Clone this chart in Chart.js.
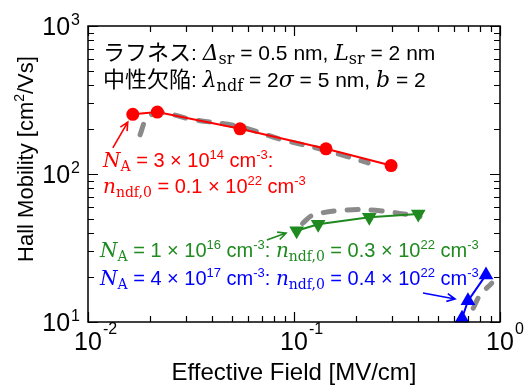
<!DOCTYPE html>
<html>
<head>
<meta charset="utf-8">
<script src="https://cdn.jsdelivr.net/npm/chart.js@4/dist/chart.umd.min.js"></script>
<style>
html,body{margin:0;padding:0;background:#fff;}
canvas{display:block;}
</style>
</head>
<body>
<canvas id="graficoMobilidade" width="524" height="385"></canvas>
<script>
// eixos
const xTicks = [0.01, 0.1, 1];
const xTickLabels = [["10","-2"],["10","-1"],["10","0"]];
const yTicks = [10, 100, 1000];
const yTickLabels = [["10","1"],["10","2"],["10","3"]];

// NA = 3e14 (vermelho)
const campoA = [0.0165, 0.0217, 0.0547, 0.143, 0.296];
const mobA = [253, 262, 202, 148, 114];
const campoAcalc = [0.0179, 0.0193, 0.0224, 0.0313, 0.0547, 0.0855, 0.144, 0.229];
const mobAcalc = [184, 238, 261, 235, 209, 172, 144, 119];

// NA = 1e16 (verde)
const campoB = [0.103, 0.131, 0.232, 0.401];
const mobB = [41.4, 45.7, 51, 53.7];
const campoBcalc = [0.110, 0.124, 0.180, 0.261, 0.409];
const mobBcalc = [46.4, 52.8, 57.1, 56.5, 51.5];

// NA = 4e17 (azul)
const campoC = [0.654, 0.699, 0.855];
const mobC = [10.6, 13.9, 20.8];
const campoCcalc = [0.742, 0.8, 0.912];
const mobCcalc = [12.4, 15.2, 18.3];

// setas (coordenadas de dados: cauda -> ponta)
const setaA = [[0.0132, 150], [0.0156, 224]];
const setaB = [[0.0739, 35.8], [0.0915, 39.9]];
const setaC = [[0.423, 15.7], [0.605, 14.3]];

const VERMELHO = "#ff0000";
const VERDE = "#1f8a1f";
const AZUL = "#0000ff";
const CINZA = "#8a8a8a";

const SANS = '20px "Liberation Sans", Arial, sans-serif';
const SUP = '13px "Liberation Sans", Arial, sans-serif';
const ITAL = 'italic 20px "DejaVu Serif", serif';
const SUB = '14px "DejaVu Serif", serif';

// texto preto do topo, um pouco maior
const SANS_P = '21px "Liberation Sans", Arial, sans-serif';
const ITAL_P = 'italic 22px "DejaVu Serif", serif';
const SUB_P = '16px "DejaVu Serif", serif';
const CJK = '22px "Noto Sans CJK JP", sans-serif';

function pontos(xs, ys){
    return xs.map((x,i)=>({x:x, y:ys[i]}));
}

function textoRico(ctx, x, y, partes, cor){
    let px = x;
    ctx.fillStyle = cor;
    ctx.textAlign = "left";
    ctx.textBaseline = "alphabetic";
    partes.forEach(p=>{
        ctx.font = p[1];
        ctx.fillText(p[0], px, y + (p[2] || 0));
        px += ctx.measureText(p[0]).width;
    });
}

function seta(ctx, xs, ys, s, cor){
    const x1 = xs.getPixelForValue(s[0][0]), y1 = ys.getPixelForValue(s[0][1]);
    const x2 = xs.getPixelForValue(s[1][0]), y2 = ys.getPixelForValue(s[1][1]);
    const ang = Math.atan2(y2-y1, x2-x1);
    ctx.strokeStyle = cor;
    ctx.lineWidth = 1.6;
    ctx.beginPath();
    ctx.moveTo(x1,y1);
    ctx.lineTo(x2,y2);
    ctx.moveTo(x2 - 9*Math.cos(ang-0.45), y2 - 9*Math.sin(ang-0.45));
    ctx.lineTo(x2,y2);
    ctx.lineTo(x2 - 9*Math.cos(ang+0.45), y2 - 9*Math.sin(ang+0.45));
    ctx.stroke();
}

function rotulos(na, expNa, n0){
    return [
        ["N", ITAL, 0], ["A", SUB, 4], [" = " + na + " \u00d7 10", SANS, 0], [expNa, SUP, -8],
        [" cm", SANS, 0], ["-3", SUP, -8], [": ", SANS, 0],
        ["n", ITAL, 0], ["ndf,0", SUB, 4], [" = " + n0 + " \u00d7 10", SANS, 0], ["22", SUP, -8],
        [" cm", SANS, 0], ["-3", SUP, -8]
    ];
}

const eixosPlugin = {
    id: "eixos",
    afterDatasetsDraw(chart){
        const ctx = chart.ctx;
        const a = chart.chartArea;
        const xs = chart.scales.x, ys = chart.scales.y;
        ctx.save();

        // setas
        seta(ctx, xs, ys, setaA, VERMELHO);
        seta(ctx, xs, ys, setaB, VERDE);
        seta(ctx, xs, ys, setaC, AZUL);

        // caixa
        ctx.strokeStyle = "#000";
        ctx.lineWidth = 1.5;
        ctx.strokeRect(a.left, a.top, a.right - a.left, a.bottom - a.top);

        // marcas
        ctx.lineWidth = 1.2;
        ctx.beginPath();
        for(let d = 0.01; d < 1; d *= 10){
            for(let m = 1; m <= 10; m++){
                const v = d*m;
                const px = Math.round(xs.getPixelForValue(v)) + 0.5;
                const L = (m === 1 || m === 10) ? 10 : 6;
                ctx.moveTo(px, a.bottom); ctx.lineTo(px, a.bottom - L);
                ctx.moveTo(px, a.top); ctx.lineTo(px, a.top + L);
            }
        }
        for(let d = 10; d < 1000; d *= 10){
            for(let m = 1; m <= 10; m++){
                const v = d*m;
                const py = Math.round(ys.getPixelForValue(v)) + 0.5;
                const L = (m === 1 || m === 10) ? 10 : 6;
                ctx.moveTo(a.left, py); ctx.lineTo(a.left + L, py);
                ctx.moveTo(a.right, py); ctx.lineTo(a.right - L, py);
            }
        }
        ctx.stroke();

        // rotulos dos eixos
        ctx.fillStyle = "#000";
        ctx.textBaseline = "alphabetic";
        xTicks.forEach((v,i)=>{
            const px = xs.getPixelForValue(v);
            ctx.font = '25px "Liberation Sans", Arial, sans-serif';
            const w = ctx.measureText(xTickLabels[i][0]).width;
            ctx.textAlign = "left";
            ctx.fillText(xTickLabels[i][0], px - w/2, a.bottom + 28);
            ctx.font = '16px "Liberation Sans", Arial, sans-serif';
            ctx.fillText(xTickLabels[i][1], px + w/2 + 1, a.bottom + 12);
        });
        yTicks.forEach((v,i)=>{
            const py = ys.getPixelForValue(v);
            ctx.font = '16px "Liberation Sans", Arial, sans-serif';
            const ws = ctx.measureText(yTickLabels[i][1]).width;
            ctx.textAlign = "right";
            ctx.fillText(yTickLabels[i][1], a.left - 8, py - 1);
            ctx.font = '25px "Liberation Sans", Arial, sans-serif';
            ctx.fillText(yTickLabels[i][0], a.left - 9 - ws, py + 9);
        });

        // titulos
        ctx.font = '24px "Liberation Sans", Arial, sans-serif';
        ctx.textAlign = "center";
        ctx.fillText("Effective Field [MV/cm]", (a.left + a.right)/2, 380);

        ctx.save();
        ctx.translate(33, 159);
        ctx.rotate(-Math.PI/2);
        const FT = '22px "Liberation Sans", Arial, sans-serif';
        const FS = '14px "Liberation Sans", Arial, sans-serif';
        ctx.font = FT;
        const t1 = "Hall Mobility [cm", t2 = "2", t3 = "/Vs]";
        const w1 = ctx.measureText(t1).width, w3 = ctx.measureText(t3).width;
        ctx.font = FS;
        const w2 = ctx.measureText(t2).width;
        let sx = -(w1 + w2 + w3)/2;
        ctx.textAlign = "left";
        ctx.font = FT;
        ctx.fillText(t1, sx, 0);
        ctx.font = FS;
        ctx.fillText(t2, sx + w1, -9);
        ctx.font = FT;
        ctx.fillText(t3, sx + w1 + w2, 0);
        ctx.restore();

        // anotacoes
        textoRico(ctx, 103, 60, [
            ["ラフネス", CJK, 0], [": ", SANS_P, 0], ["\u0394", ITAL_P, 0], ["sr", SUB_P, 4],
            [" = 0.5 nm, ", SANS_P, 0], ["L", ITAL_P, 0], ["sr", SUB_P, 4], [" = 2 nm", SANS_P, 0]
        ], "#000");
        textoRico(ctx, 103, 87, [
            ["中性欠陥", CJK, 0], [": ", SANS_P, 0], ["\u03bb", ITAL_P, 0], ["ndf", SUB_P, 4],
            [" = 2", SANS_P, 0], ["\u03c3", ITAL_P, 0], [" = 5 nm, ", SANS_P, 0], ["b", ITAL_P, 0], [" = 2", SANS_P, 0]
        ], "#000");

        textoRico(ctx, 103, 167, [
            ["N", ITAL, 0], ["A", SUB, 4], [" = 3 \u00d7 10", SANS, 0], ["14", SUP, -8],
            [" cm", SANS, 0], ["-3", SUP, -8], [":", SANS, 0]
        ], VERMELHO);
        textoRico(ctx, 103, 193, [
            ["n", ITAL, 0], ["ndf,0", SUB, 4], [" = 0.1 \u00d7 10", SANS, 0], ["22", SUP, -8],
            [" cm", SANS, 0], ["-3", SUP, -8]
        ], VERMELHO);
        textoRico(ctx, 100, 257, rotulos("1", "16", "0.3"), VERDE);
        textoRico(ctx, 100, 285, rotulos("4", "17", "0.4"), AZUL);

        ctx.restore();
    }
};

const calc = (dados)=>({
    data: dados, showLine: true, borderColor: CINZA, borderWidth: 5, borderDash: [11, 13],
    borderCapStyle: "round", pointRadius: 0, tension: 0.35, clip: false, order: 2
});

new Chart(document.getElementById("graficoMobilidade"), {
    type: "scatter",
    data: {
        datasets: [
            calc(pontos(campoAcalc, mobAcalc)),
            calc(pontos(campoBcalc, mobBcalc)),
            calc(pontos(campoCcalc, mobCcalc)),
            {
                data: pontos(campoA, mobA), showLine: true, borderColor: VERMELHO, borderWidth: 2,
                backgroundColor: VERMELHO, pointRadius: 6.5, pointBorderWidth: 0, clip: false, order: 1
            },
            {
                data: pontos(campoB, mobB), showLine: true, borderColor: VERDE, borderWidth: 2,
                backgroundColor: VERDE, pointStyle: "triangle", rotation: 180, pointRadius: 8.5,
                pointBorderWidth: 0, clip: false, order: 1
            },
            {
                data: pontos(campoC, mobC), showLine: true, borderColor: AZUL, borderWidth: 2,
                backgroundColor: AZUL, pointStyle: "triangle", pointRadius: 8.5,
                pointBorderWidth: 0, clip: false, order: 1
            }
        ]
    },
    options: {
        responsive: false,
        animation: false,
        devicePixelRatio: 1,
        layout: { padding: { left: 88, right: 24, top: 26, bottom: 63 } },
        plugins: { legend: { display: false }, tooltip: { enabled: false } },
        scales: {
            x: { type: "logarithmic", min: 0.01, max: 1, display: false },
            y: { type: "logarithmic", min: 10, max: 1000, display: false }
        }
    },
    plugins: [eixosPlugin]
});
</script>
</body>
</html>
